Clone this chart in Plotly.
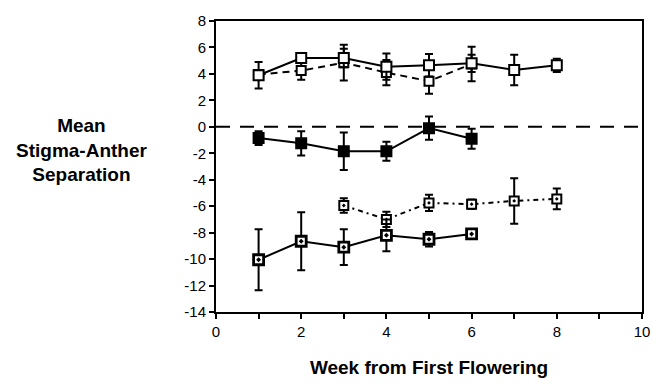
import plotly.graph_objects as go

# ---- data ----
weeks_a = [1, 2, 3, 4, 5, 6, 7, 8]
open_solid = [3.9, 5.2, 5.2, 4.55, 4.65, 4.8, 4.3, 4.65]
open_solid_err = [1.0, 0.2, 0.7, 1.0, 0.85, 0.65, 1.15, 0.5]

weeks_b = [1, 2, 3, 4, 5, 6]
open_dashed = [3.95, 4.25, 4.85, 4.1, 3.45, 4.75]
open_dashed_err = [0.3, 0.7, 1.35, 0.95, 0.95, 1.3]

filled_solid = [-0.85, -1.25, -1.85, -1.85, -0.1, -0.9]
filled_solid_err = [0.52, 0.92, 1.42, 0.72, 0.88, 0.75]

weeks_c = [3, 4, 5, 6, 7, 8]
dotdash = [-5.95, -7.0, -5.75, -5.85, -5.6, -5.45]
dotdash_err = [0.55, 0.57, 0.62, 0.35, 1.72, 0.78]

bottom_solid = [-10.05, -8.65, -9.1, -8.2, -8.5, -8.1]
bottom_solid_err = [2.3, 2.2, 1.35, 1.2, 0.55, 0.2]

x_ticks = [0, 2, 4, 6, 8, 10]
y_ticks = [8, 6, 4, 2, 0, -2, -4, -6, -8, -10, -12, -14]

BLACK = "black"
FONT = "Liberation Sans, Arial, Helvetica, sans-serif"

fig = go.Figure()


def add_series(x, y, err, dash, symbol, size, fill, mlw=2.0):
    fig.add_trace(go.Scatter(
        x=x, y=y, mode="lines+markers",
        line=dict(color=BLACK, width=2, dash=dash),
        marker=dict(symbol=symbol, size=size, color=fill,
                    line=dict(color=BLACK, width=mlw)),
        error_y=dict(type="data", array=err, visible=True,
                     color=BLACK, thickness=2, width=4),
        showlegend=False,
    ))


add_series(weeks_b, open_dashed, open_dashed_err, "7px,5px", "square", 9, "white")
add_series(weeks_a, open_solid, open_solid_err, "solid", "square", 10, "white")
add_series(weeks_b, filled_solid, filled_solid_err, "solid", "square", 10, BLACK)
add_series(weeks_c, dotdash, dotdash_err, "5px,4px,2px,4px", "square-dot", 9, "white")
add_series(weeks_b, bottom_solid, bottom_solid_err, "solid", "square-dot", 10, "white", 2.8)

fig.add_hline(y=0, line=dict(color=BLACK, width=2, dash="14px,10px"))

fig.update_xaxes(
    range=[0, 10], tickmode="array", tickvals=list(range(0, 11)),
    ticktext=[str(v) if v in x_ticks else "" for v in range(0, 11)],
    ticks="outside", ticklen=5, tickwidth=1.5, tickcolor=BLACK,
    showline=True, linecolor=BLACK, linewidth=2, mirror=True,
    showgrid=False, zeroline=False,
    tickfont=dict(family=FONT, size=15, color=BLACK),
    title=dict(text="<b>Week from First Flowering</b>",
               font=dict(family=FONT, size=19, color=BLACK), standoff=22),
)
fig.update_yaxes(
    range=[-14, 8], tickmode="array", tickvals=y_ticks,
    ticktext=[str(v) for v in y_ticks],
    ticks="outside", ticklen=5, tickwidth=1.5, tickcolor=BLACK,
    showline=True, linecolor=BLACK, linewidth=2, mirror=True,
    showgrid=False, zeroline=False,
    tickfont=dict(family=FONT, size=15, color=BLACK),
)

fig.add_annotation(
    text="<b>Mean<br>Stigma-Anther<br>Separation</b>",
    xref="paper", yref="paper", x=-0.315, y=0.555,
    xanchor="center", yanchor="middle", showarrow=False, align="center",
    font=dict(family=FONT, size=19, color=BLACK),
)

fig.update_layout(
    width=664, height=387,
    margin=dict(l=216, r=22, t=16, b=75),
    paper_bgcolor="white", plot_bgcolor="white",
    font=dict(family=FONT, color=BLACK),
)

fig.write_html("out.html")
